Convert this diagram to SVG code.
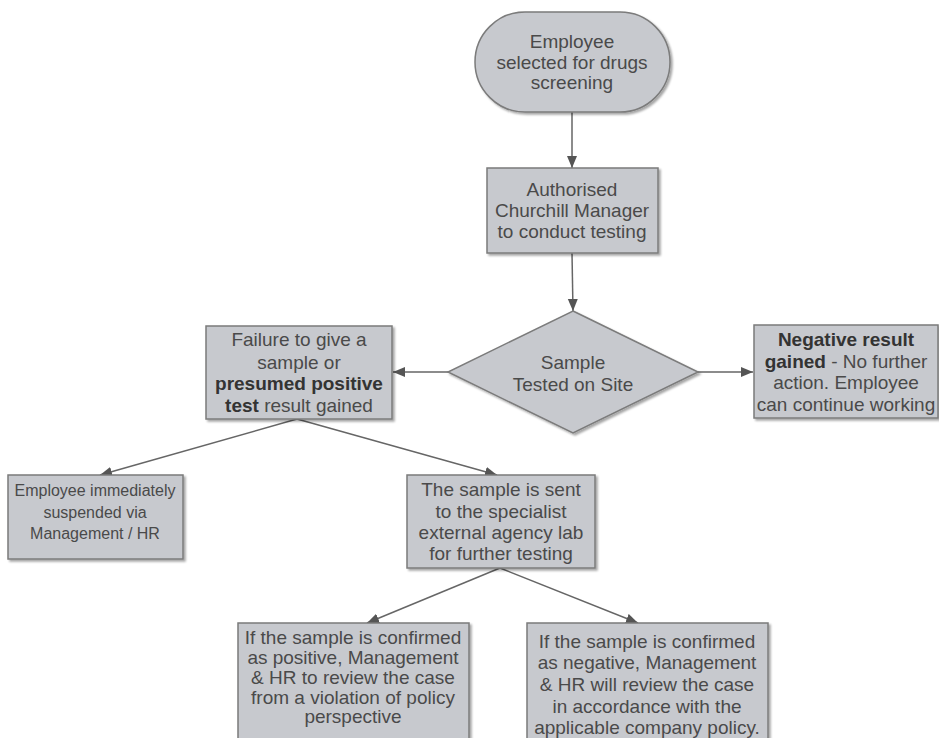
<svg xmlns="http://www.w3.org/2000/svg" width="939" height="738" viewBox="0 0 939 738">
<defs>
<marker id="arr" markerUnits="userSpaceOnUse" markerWidth="13" markerHeight="11" refX="12" refY="5" orient="auto">
<path d="M0,0 L12,5 L0,10 z" fill="#555"/>
</marker>
<filter id="sh" x="-10%" y="-10%" width="125%" height="130%">
<feDropShadow dx="2" dy="2" stdDeviation="1.2" flood-color="#000" flood-opacity="0.35"/>
</filter>
</defs>
<style>
.n{fill:#c7c9ce;stroke:#7b7b7b;stroke-width:1.5;filter:url(#sh)}
.t{font-family:"Liberation Sans",Arial,sans-serif;font-size:19px;fill:#4a4a4a;text-anchor:middle}
.s{font-size:16px}
.b{font-weight:bold;fill:#333}
.c{fill:none;stroke:#666;stroke-width:1.5;marker-end:url(#arr)}
</style>
<rect width="939" height="738" fill="#fff"/>
<g id="connectors">
<line class="c" x1="572" y1="112" x2="572" y2="168"/>
<line class="c" x1="572" y1="253" x2="573" y2="311"/>
<line class="c" x1="448" y1="372" x2="393" y2="372"/>
<line class="c" x1="698" y1="372" x2="753" y2="372"/>
<line class="c" x1="297" y1="419" x2="100" y2="475"/>
<line class="c" x1="297" y1="419" x2="497" y2="475"/>
<line class="c" x1="500" y1="568" x2="367" y2="623"/>
<line class="c" x1="500" y1="568" x2="638" y2="623"/>
</g>
<g id="start">
<rect class="n" x="475" y="12" width="195" height="100" rx="50" ry="50"/>
<text class="t" x="572"><tspan x="572" y="48">Employee</tspan><tspan x="572" y="69">selected for drugs</tspan><tspan x="572" y="89">screening</tspan></text>
</g>
<g id="manager">
<rect class="n" x="487" y="168" width="171" height="85"/>
<text class="t"><tspan x="572" y="196">Authorised</tspan><tspan x="572" y="217">Churchill Manager</tspan><tspan x="572" y="238">to conduct testing</tspan></text>
</g>
<g id="decision">
<polygon class="n" points="573,311 698,372 573,433 448,372"/>
<text class="t"><tspan x="573" y="369">Sample</tspan><tspan x="573" y="391">Tested on Site</tspan></text>
</g>
<g id="failure">
<rect class="n" x="206" y="326" width="186" height="93"/>
<text class="t"><tspan x="299" y="346">Failure to give a</tspan><tspan x="299" y="369">sample or</tspan><tspan x="299" y="390" class="b">presumed positive</tspan><tspan x="299" y="412"><tspan class="b">test</tspan> result gained</tspan></text>
</g>
<g id="negative">
<rect class="n" x="754" y="325" width="184" height="93"/>
<text class="t"><tspan x="846" y="346" class="b">Negative result</tspan><tspan x="846" y="368"><tspan class="b">gained</tspan> - No further</tspan><tspan x="846" y="389">action. Employee</tspan><tspan x="846" y="411">can continue working</tspan></text>
</g>
<g id="suspended">
<rect class="n" x="8" y="475" width="175" height="84"/>
<text class="t s"><tspan x="95" y="496">Employee immediately</tspan><tspan x="95" y="518">suspended via</tspan><tspan x="95" y="539">Management / HR</tspan></text>
</g>
<g id="lab">
<rect class="n" x="407" y="475" width="188" height="93"/>
<text class="t"><tspan x="501" y="496">The sample is sent</tspan><tspan x="501" y="518">to the specialist</tspan><tspan x="501" y="539">external agency lab</tspan><tspan x="501" y="560">for further testing</tspan></text>
</g>
<g id="positive">
<rect class="n" x="238" y="623" width="231" height="125"/>
<text class="t"><tspan x="353" y="644">If the sample is confirmed</tspan><tspan x="353" y="664">as positive, Management</tspan><tspan x="353" y="684">&amp; HR to review the case</tspan><tspan x="353" y="704">from a violation of policy</tspan><tspan x="353" y="723">perspective</tspan></text>
</g>
<g id="negconfirmed">
<rect class="n" x="527" y="623" width="241" height="125"/>
<text class="t"><tspan x="647" y="648">If the sample is confirmed</tspan><tspan x="647" y="669">as negative, Management</tspan><tspan x="647" y="691">&amp; HR will review the case</tspan><tspan x="647" y="713">in accordance with the</tspan><tspan x="647" y="734">applicable company policy.</tspan></text>
</g>
</svg>
